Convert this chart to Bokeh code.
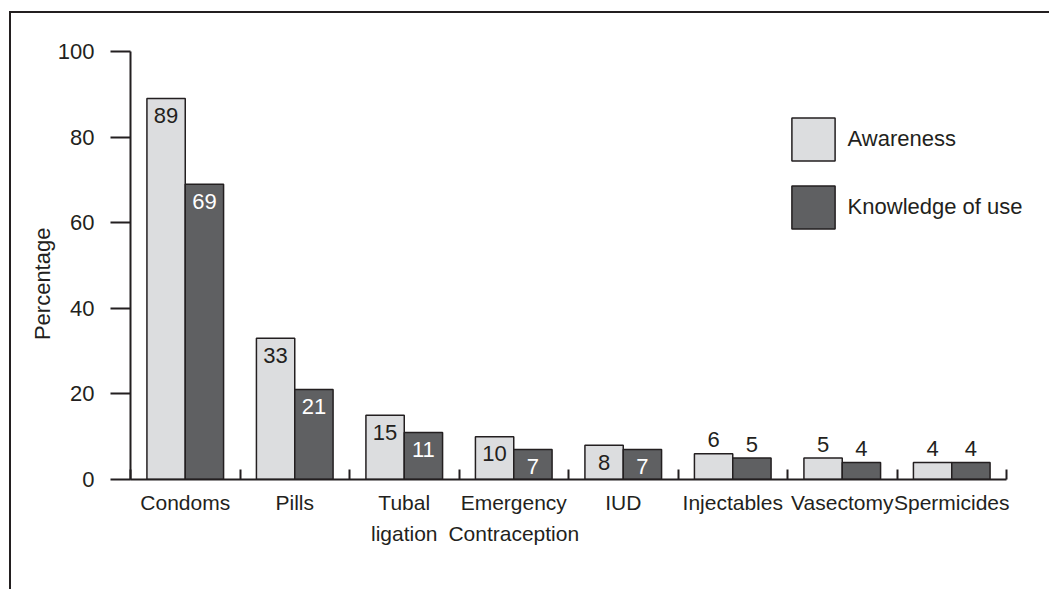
from bokeh.plotting import figure
from bokeh.models import ColumnDataSource, FixedTicker, Legend, LegendItem, Range1d
from bokeh.core.properties import value
from bokeh.embed import file_html
from bokeh.resources import INLINE

# ---- data ----
categories = ["Condoms", "Pills", "Tubal\nligation", "Emergency\nContraception",
              "IUD", "Injectables", "Vasectomy", "Spermicides"]
awareness = [89, 33, 15, 10, 8, 6, 5, 4]
knowledge = [69, 21, 11, 7, 7, 5, 4, 4]
y_ticks = [0, 20, 40, 60, 80, 100]
series_names = ["Awareness", "Knowledge of use"]
y_title = "Percentage"

# ---- style ----
FONT = "Liberation Sans"
INK = "#231f20"
LIGHT = "#dcdddf"
DARK = "#5f6062"
FS = "22px"
FS_CAT = "21px"
BAR_W = 0.35
INSIDE_MIN = 7  # values at or above this have their label inside the bar

n = len(categories)
centers = [i + 0.5 for i in range(n)]
x_aw = [c - BAR_W / 2 for c in centers]
x_kn = [c + BAR_W / 2 for c in centers]

# layout (pixels)
W, H = 1040, 578
LEFT, TOP, FRAME_H = 119, 38, 428
AXIS_PX = 876                       # pixel length of the category axis
FRAME_W = W - LEFT                  # frame runs to the right edge (room for legend)
x_end = n * FRAME_W / AXIS_PX

p = figure(width=W, height=H, output_backend="svg", toolbar_location=None,
           x_range=Range1d(0, x_end), y_range=Range1d(0, 100),
           min_border_left=LEFT, min_border_right=0, min_border_top=TOP,
           min_border_bottom=H - TOP - FRAME_H)
p.styles = {"border-top": "2px solid #231f20", "border-left": "2px solid #231f20",
            "margin-top": "11px", "margin-left": "9px"}
p.outline_line_color = None
p.grid.visible = False

src_aw = ColumnDataSource(dict(x=x_aw, top=awareness))
src_kn = ColumnDataSource(dict(x=x_kn, top=knowledge))
r_aw = p.vbar(x="x", top="top", bottom=0, width=BAR_W, source=src_aw,
              fill_color=LIGHT, line_color=INK, line_width=1.5)
r_kn = p.vbar(x="x", top="top", bottom=0, width=BAR_W, source=src_kn,
              fill_color=DARK, line_color=INK, line_width=1.5)

# value labels
def label_src(xs, vals, inside):
    sel = [(x, v) for x, v in zip(xs, vals) if (v >= INSIDE_MIN) == inside]
    return ColumnDataSource(dict(x=[s[0] for s in sel], y=[s[1] for s in sel],
                                 t=[str(s[1]) for s in sel]))

common = dict(text="t", text_font=value(FONT), text_font_size=FS,
              text_align="center", text_baseline="alphabetic")
p.text(x="x", y="y", source=label_src(x_aw, awareness, True), y_offset=17,
       text_color=INK, **common)
p.text(x="x", y="y", source=label_src(x_kn, knowledge, True), y_offset=17,
       text_color="white", **common)
p.text(x="x", y="y", source=label_src(x_aw, awareness, False), y_offset=-14,
       text_color=INK, **common)
p.text(x="x", y="y", source=label_src(x_kn, knowledge, False), y_offset=-14,
       text_color=INK, **common)

# y axis
ya = p.yaxis[0]
ya.ticker = FixedTicker(ticks=y_ticks)
ya.major_tick_out = 20
ya.major_tick_in = 0
ya.minor_tick_out = 0
ya.minor_tick_in = 0
ya.axis_line_width = 2
ya.axis_line_color = INK
ya.major_tick_line_width = 2
ya.major_tick_line_color = INK
ya.major_label_standoff = 16
ya.major_label_text_font = FONT
ya.major_label_text_font_size = FS
ya.major_label_text_color = INK
ya.axis_label = y_title + "\u00a0" * 6
ya.axis_label_text_font = FONT
ya.axis_label_text_font_size = FS
ya.axis_label_text_font_style = "normal"
ya.axis_label_text_color = INK
ya.axis_label_standoff = 0

# x axis
xa = p.xaxis[0]
xa.bounds = (0, n)
xa.ticker = FixedTicker(ticks=centers, minor_ticks=list(range(n + 1)))
xa.major_tick_line_color = None
xa.minor_tick_in = 10
xa.minor_tick_out = 0
xa.minor_tick_line_width = 2
xa.minor_tick_line_color = INK
xa.axis_line_width = 2
xa.axis_line_color = INK
xa.major_label_overrides = {c: name for c, name in zip(centers, categories)}
xa.major_label_standoff = 5
xa.major_label_text_font = FONT
xa.major_label_text_font_size = FS_CAT
xa.major_label_text_color = INK
xa.major_label_text_line_height = 1.38

legend = Legend(items=[LegendItem(label=series_names[0], renderers=[r_aw]),
                       LegendItem(label=series_names[1], renderers=[r_kn])],
                location=(655.6, 245.4), margin=0, padding=0, spacing=14,
                glyph_width=54, glyph_height=54, label_standoff=8,
                label_text_font=FONT, label_text_font_size=FS,
                label_text_color=INK, border_line_color=None,
                background_fill_alpha=0)
p.add_layout(legend, "center")

open("out.html", "w").write(file_html(p, INLINE))
